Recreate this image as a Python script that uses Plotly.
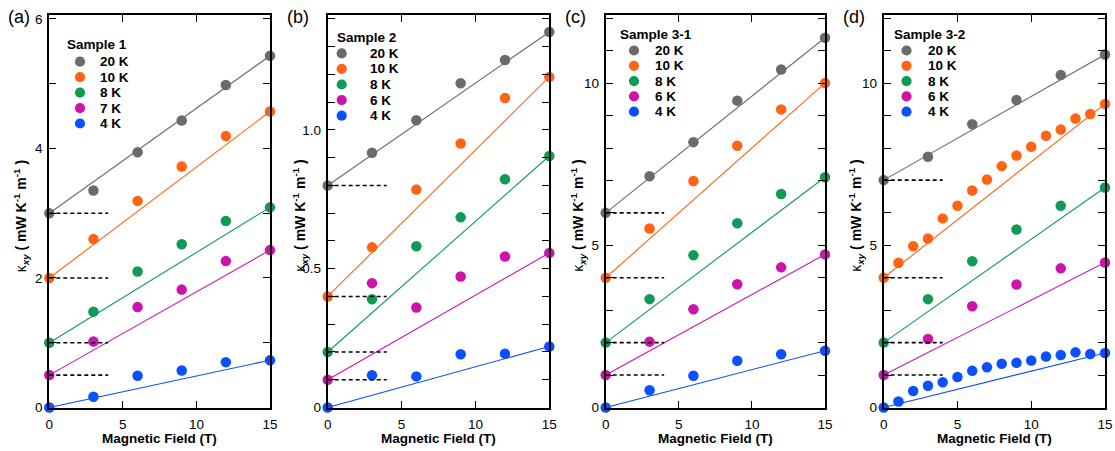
import plotly.graph_objects as go

W, H = 1115, 451

# ---------------- data ----------------
field_coarse = [0, 3, 6, 9, 12, 15]
field_fine = list(range(0, 16))

panel_labels = ["(a)", "(b)", "(c)", "(d)"]
sample_names = ["Sample 1", "Sample 2", "Sample 3-1", "Sample 3-2"]

temps_a = ["20 K", "10 K", "8 K", "7 K", "4 K"]
temps_b = ["20 K", "10 K", "8 K", "6 K", "4 K"]
temps_c = ["20 K", "10 K", "8 K", "6 K", "4 K"]
temps_d = ["20 K", "10 K", "8 K", "6 K", "4 K"]

# Sample 1 (offset curves)
a_20K = [3.00, 3.35, 3.94, 4.43, 4.98, 5.43]
a_10K = [2.00, 2.60, 3.19, 3.72, 4.19, 4.57]
a_8K = [1.00, 1.48, 2.10, 2.52, 2.88, 3.09]
a_7K = [0.50, 1.02, 1.55, 1.82, 2.26, 2.43]
a_4K = [0.00, 0.165, 0.49, 0.57, 0.70, 0.73]

# Sample 2
b_20K = [0.80, 0.918, 1.035, 1.168, 1.252, 1.353]
b_10K = [0.40, 0.577, 0.785, 0.951, 1.115, 1.191]
b_8K = [0.20, 0.39, 0.581, 0.685, 0.822, 0.906]
b_6K = [0.10, 0.448, 0.36, 0.472, 0.544, 0.557]
b_4K = [0.00, 0.116, 0.112, 0.192, 0.194, 0.22]

# Sample 3-1
c_20K = [6.00, 7.13, 8.18, 9.46, 10.42, 11.40]
c_10K = [4.00, 5.52, 6.98, 8.07, 9.19, 10.00]
c_8K = [2.00, 3.34, 4.69, 5.68, 6.58, 7.10]
c_6K = [1.00, 2.03, 3.03, 3.80, 4.32, 4.72]
c_4K = [0.00, 0.53, 0.98, 1.44, 1.64, 1.75]

# Sample 3-2
d_20K = [7.01, 7.73, 8.73, 9.48, 10.25, 10.88]
d_10K = [4.00, 4.46, 4.97, 5.21, 5.83, 6.22, 6.69, 7.03, 7.44, 7.77, 8.04,
         8.38, 8.57, 8.91, 9.05, 9.36]
d_8K = [2.00, 3.34, 4.51, 5.49, 6.22, 6.78]
d_6K = [1.00, 2.11, 3.12, 3.79, 4.29, 4.47]
d_4K = [0.00, 0.185, 0.51, 0.67, 0.78, 0.94, 1.13, 1.24, 1.35, 1.38, 1.45,
        1.57, 1.62, 1.70, 1.65, 1.68]

y_ranges = [[0, 6.06], [0, 1.414], [0, 12.1], [0, 12.1]]
y_tickvals = [[0, 2, 4, 6], [0, 0.5, 1.0], [0, 5, 10], [0, 5, 10]]
y_ticktext = [["0", "2", "4", "6"], ["0", "0.5", "1.0"], ["0", "5", "10"], ["0", "5", "10"]]
y_minor = [1, 0.1, 1, 1]
x_ticks = [0, 5, 10, 15]
dash_end = 4  # zero-field reference dashes extend to this field

colors = ["#6b6b6b", "#ff6414", "#0f9a55", "#cc14ad", "#0a50ff"]

panels = [
    (temps_a, [(field_coarse, a_20K), (field_coarse, a_10K), (field_coarse, a_8K),
               (field_coarse, a_7K), (field_coarse, a_4K)]),
    (temps_b, [(field_coarse, b_20K), (field_coarse, b_10K), (field_coarse, b_8K),
               (field_coarse, b_6K), (field_coarse, b_4K)]),
    (temps_c, [(field_coarse, c_20K), (field_coarse, c_10K), (field_coarse, c_8K),
               (field_coarse, c_6K), (field_coarse, c_4K)]),
    (temps_d, [(field_coarse, d_20K), (field_fine, d_10K), (field_coarse, d_8K),
               (field_coarse, d_6K), (field_fine, d_4K)]),
]

# ---------------- layout geometry (pixels) ----------------
x_dom_px = [(49.3, 270.0), (327.7, 549.3), (605.7, 825.0), (883.7, 1105.0)]
y_top_px, y_bot_px = 15.0, 407.5
legend_geo = [
    # title_x, title_y, marker_x, label_x, first_row_y, row_step
    (65.0, 45.0, 80.0, 98.0, 61.7, 15.45),
    (335.0, 37.0, 341.7, 368.0, 53.3, 15.6),
    (618.0, 34.0, 634.0, 652.7, 50.5, 15.3),
    (891.7, 34.0, 906.5, 925.5, 50.5, 15.3),
]

FONT = "Liberation Sans, Arial, sans-serif"


def px(xp):
    return xp / W


def py(yp):
    return 1 - yp / H


fig = go.Figure()
layout = {}
annotations = []
shapes = []

for i, (temps, series) in enumerate(panels):
    n = i + 1
    xa = "x" if n == 1 else f"x{n}"
    ya = "y" if n == 1 else f"y{n}"
    xkey = "xaxis" if n == 1 else f"xaxis{n}"
    ykey = "yaxis" if n == 1 else f"yaxis{n}"

    # fit lines (first to last point)
    for (fx, fy), col in zip(series, colors):
        fig.add_trace(go.Scatter(x=[fx[0], fx[-1]], y=[fy[0], fy[-1]], mode="lines",
                                 line=dict(color=col, width=1.1), xaxis=xa, yaxis=ya,
                                 showlegend=False, hoverinfo="skip", cliponaxis=False))
    # data points
    for (fx, fy), col, t in zip(series, colors, temps):
        fig.add_trace(go.Scatter(x=fx, y=fy, mode="markers", name=t,
                                 marker=dict(color=col, size=10.5, line=dict(width=0)),
                                 xaxis=xa, yaxis=ya, showlegend=False, cliponaxis=False))
    # zero-field dashed reference lines
    for (fx, fy) in series:
        if fy[0] > 0:
            fig.add_trace(go.Scatter(x=[fx[0], dash_end], y=[fy[0], fy[0]], mode="lines",
                                     line=dict(color="black", width=1.6, dash="4px,3px"),
                                     xaxis=xa, yaxis=ya, showlegend=False,
                                     hoverinfo="skip", cliponaxis=False))

    x0p, x1p = x_dom_px[i]
    axis_common = dict(showline=True, linewidth=2, linecolor="black", mirror="ticks",
                       ticks="inside", ticklen=7, tickwidth=1.3, tickcolor="black",
                       showgrid=False, zeroline=False, automargin=False,
                       tickfont=dict(family=FONT, size=13.5, color="black"))
    layout[xkey] = dict(domain=[px(x0p), px(x1p)], range=[0, 15], tickvals=x_ticks,
                        anchor=ya, ticklabelstandoff=3, **axis_common)
    layout[ykey] = dict(domain=[py(y_bot_px), py(y_top_px)], range=y_ranges[i],
                        tickvals=y_tickvals[i], ticktext=y_ticktext[i], anchor=xa,
                        ticklabelstandoff=2,
                        minor=dict(tickmode="linear", tick0=0, dtick=y_minor[i],
                                   ticks="inside", ticklen=7, tickwidth=1.3,
                                   tickcolor="black"),
                        **axis_common)

    # panel label
    annotations.append(dict(text=panel_labels[i], x=px(x0p - 43), y=py(17),
                            xref="paper", yref="paper", xanchor="left", yanchor="middle",
                            showarrow=False, font=dict(family=FONT, size=18, color="black")))
    # x title
    annotations.append(dict(text="<b>Magnetic Field (T)</b>", x=px((x0p + x1p) / 2),
                            y=py(438), xref="paper", yref="paper", xanchor="center",
                            yanchor="middle", showarrow=False,
                            font=dict(family=FONT, size=13.5, color="black")))
    # y title
    annotations.append(dict(text="κ<sub><i><b>xy</b></i></sub><b> ( mW K<sup>-1</sup> m<sup>-1</sup> )</b>",
                            x=px(x0p - 28), y=py(216), xref="paper", yref="paper",
                            xanchor="center", yanchor="middle", textangle=-90,
                            showarrow=False, font=dict(family=FONT, size=14, color="black")))
    # legend
    tx, ty, mx, lx, ry0, rstep = legend_geo[i]
    annotations.append(dict(text=f"<b>{sample_names[i]}</b>", x=px(tx), y=py(ty),
                            xref="paper", yref="paper", xanchor="left", yanchor="middle",
                            showarrow=False, font=dict(family=FONT, size=13.5, color="black")))
    for k, (t, col) in enumerate(zip(temps, colors)):
        yy = ry0 + k * rstep
        shapes.append(dict(type="circle", xref="paper", yref="paper",
                           xsizemode="pixel", ysizemode="pixel",
                           xanchor=px(mx), yanchor=py(yy),
                           x0=-5.1, x1=5.1, y0=-5.1, y1=5.1,
                           fillcolor=col, line=dict(width=0)))
        annotations.append(dict(text=f"<b>{t}</b>", x=px(lx), y=py(yy), xref="paper",
                                yref="paper", xanchor="left", yanchor="middle",
                                showarrow=False,
                                font=dict(family=FONT, size=13.5, color="black")))

fig.update_layout(width=W, height=H,
                  margin=dict(l=0, r=0, t=0, b=0, pad=0, autoexpand=False),
                  paper_bgcolor="white", plot_bgcolor="white",
                  font=dict(family=FONT, size=13, color="black"),
                  annotations=annotations, shapes=shapes, showlegend=False,
                  **layout)

fig.write_html("out.html")
